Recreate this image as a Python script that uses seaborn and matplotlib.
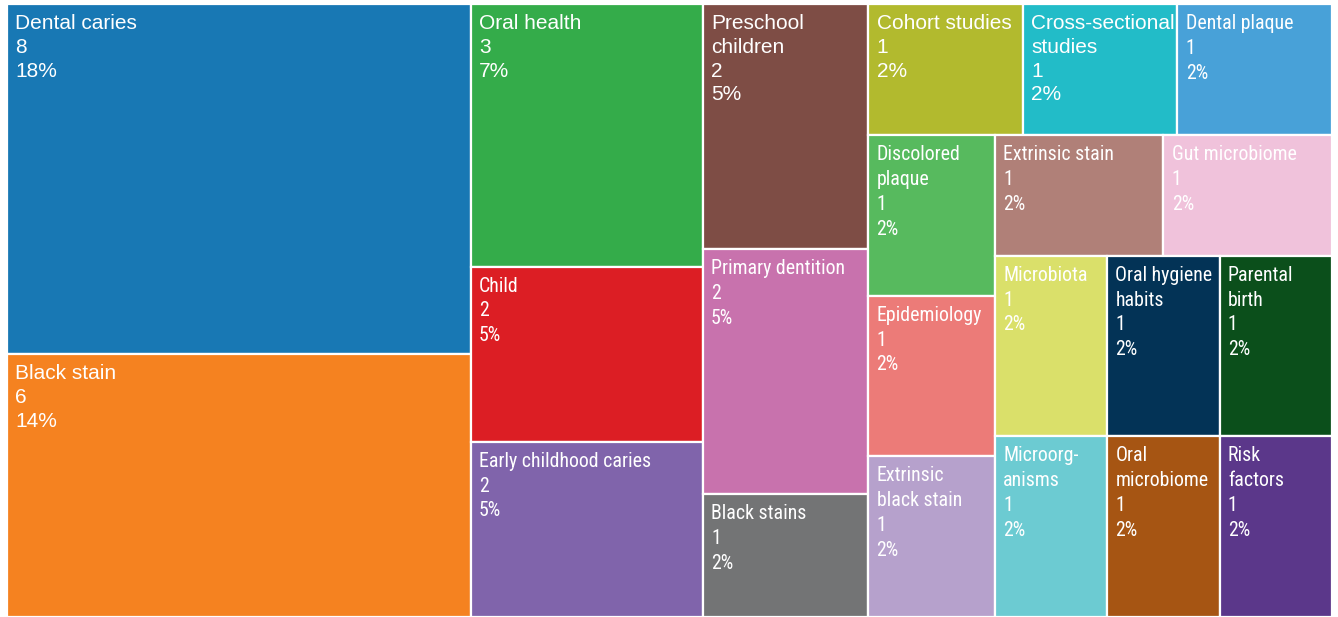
import matplotlib
matplotlib.use("Agg")
import matplotlib.pyplot as plt
from matplotlib import font_manager
import seaborn as sns
from matplotlib.patches import Rectangle

# ---------------- data ----------------
labels = ["Dental caries", "Black stain", "Oral health", "Child",
          "Early childhood caries", "Preschool\nchildren", "Primary dentition",
          "Black stains", "Cohort studies", "Cross-sectional\nstudies",
          "Dental plaque", "Discolored\nplaque", "Epidemiology",
          "Extrinsic\nblack stain", "Extrinsic stain", "Gut microbiome",
          "Microbiota", "Microorg-\nanisms", "Oral hygiene\nhabits",
          "Parental\nbirth", "Oral\nmicrobiome", "Risk\nfactors"]
counts = [8, 6, 3, 2, 2, 2, 2, 1, 1, 1, 1, 1, 1, 1, 1, 1, 1, 1, 1, 1, 1, 1]
percents = ["18%", "14%", "7%", "5%", "5%", "5%", "5%", "2%", "2%", "2%",
            "2%", "2%", "2%", "2%", "2%", "2%", "2%", "2%", "2%", "2%",
            "2%", "2%"]
colors = ["#1878b4", "#f58220", "#34ac4a", "#dc1e24", "#8064ab", "#7e4d45",
          "#c872ad", "#737475", "#b2ba2e", "#22bcc8", "#48a1d8", "#57ba5e",
          "#ec7b78", "#b6a1cc", "#b08078", "#f0c2db", "#dae06a", "#6ccbd2",
          "#033356", "#0b4f1b", "#a65513", "#5b378a"]

# labels drawn in the regular-width face; all others use a narrower look
regular_width = {"Dental caries", "Black stain", "Oral health",
                 "Preschool\nchildren", "Cohort studies",
                 "Cross-sectional\nstudies"}


# ---------------- squarified treemap layout (d3-style) ----------------
def squarify(values, x, y, w, h, col_bias=0.9):
    vals = [float(v) for v in values]
    remaining = sum(vals)
    rects = []
    i = 0
    n = len(vals)
    while i < n:
        alpha = max(h / w, w / h) / remaining
        s = vals[i]
        mn = mx = s
        beta = s * s * alpha
        best = max(mx / beta, beta / mn)
        j = i + 1
        while j < n:
            v = vals[j]
            s2 = s + v
            mn2, mx2 = min(mn, v), max(mx, v)
            beta = s2 * s2 * alpha
            r = max(mx2 / beta, beta / mn2)
            if r > best:
                break
            s, mn, mx, best = s2, mn2, mx2, r
            j += 1
        row = vals[i:j]
        if w >= col_bias * h:            # column strip on the left
            t = w * s / remaining
            yy = y
            for v in row:
                l = h * v / s
                rects.append((x, yy, t, l))
                yy += l
            x += t
            w -= t
        else:                            # row strip on the top
            t = h * s / remaining
            xx = x
            for v in row:
                l = w * v / s
                rects.append((xx, y, l, t))
                xx += l
            y += t
            h -= t
        remaining -= s
        i = j
    return rects


W, H = 1325.0, 613.0

sns.set_theme(style="white")
plt.rcParams["font.family"] = ["Liberation Sans", "DejaVu Sans"]

installed = {f.name for f in font_manager.fontManager.ttflist}
narrow = next((f for f in ["Liberation Sans Narrow", "Arial Narrow",
                           "Roboto Condensed", "Open Sans Condensed"]
               if f in installed), None)

fig = plt.figure(figsize=(13.38, 6.17), dpi=100)
ax = fig.add_axes([7 / 1338, 0.0, 1325 / 1338, 613 / 617])
palette = sns.color_palette(colors)

BASE_FS, BASE_LS = 15, 1.32
rects = squarify(counts, 0, 0, W, H)
for (x, y, w, h), lab, c, p, col in zip(rects, labels, counts, percents, palette):
    ax.add_patch(Rectangle((x, y), w, h, facecolor=col, edgecolor="white",
                           linewidth=1.6))
    if lab in regular_width:
        fam, fs = ["Liberation Sans", "DejaVu Sans"], BASE_FS
    elif narrow:
        fam, fs = [narrow, "Liberation Sans"], 14.3
    else:
        fam, fs = ["Liberation Sans", "DejaVu Sans"], 13.5
    ax.annotate(f"{lab}\n{c}\n{p}", xy=(x, y), xytext=(6, -7.2),
                textcoords="offset points", ha="left", va="top",
                color="white", fontsize=fs,
                linespacing=BASE_LS * BASE_FS / fs, family=fam)

ax.set_xlim(0, W)
ax.set_ylim(H, 0)
ax.axis("off")
fig.savefig("out.png", dpi=100)
